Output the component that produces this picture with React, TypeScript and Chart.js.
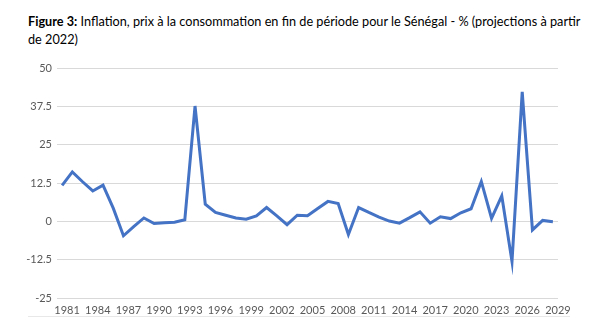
import React, { useEffect, useRef } from "react";
import { Chart, registerables } from "chart.js";

Chart.register(...registerables);

const years: string[] = [];
for (let y = 1981; y <= 2029; y++) years.push(String(y));

const inflation = [
  11.7, 16.1, 12.9, 9.9, 11.8, 4.3, -4.7, -1.7, 1.1, -0.7,
  -0.5, -0.3, 0.5, 37.6, 5.6, 2.9, 2.0, 1.1, 0.7, 1.8,
  4.5, 1.8, -1.1, 2.0, 1.8, 4.2, 6.5, 5.8, -4.3, 4.5,
  2.9, 1.4, 0.1, -0.6, 1.2, 3.1, -0.6, 1.5, 0.9, 2.8,
  4.1, 13.0, 1.0, 8.3, -13.1, 42.2, -2.8, 0.3, -0.1,
];

const yTicks = [50, 37.5, 25, 12.5, 0, -12.5, -25];
const titleBold = "Figure 3:";
const titleLine1 = " Inflation, prix à la consommation en fin de période pour le Sénégal - % (projections à partir";
const titleLine2 = "de 2022)";

export default function App() {
  const ref = useRef<HTMLCanvasElement>(null);
  useEffect(() => {
    if (!ref.current) return;
    const chart = new Chart(ref.current, {
      type: "line",
      data: {
        labels: years,
        datasets: [
          {
            data: inflation,
            borderColor: "#4472C4",
            borderWidth: 3,
            pointRadius: 0,
            tension: 0,
            fill: false,
          },
        ],
      },
      options: {
        animation: false,
        responsive: false,
        maintainAspectRatio: false,
        layout: { padding: { top: 68, left: 0, right: 42, bottom: 0 } },
        plugins: { legend: { display: false }, title: { display: false }, tooltip: { enabled: false } },
        scales: {
          x: {
            type: "category",
            offset: true,
            grid: { display: false, drawTicks: false },
            border: { display: false },
            afterFit: (s: any) => { s.height = 31; },
            ticks: {
              autoSkip: false,
              maxRotation: 0,
              minRotation: 0,
              padding: 6,
              labelOffset: 5,
              color: "#595959",
              font: { family: "Lato, 'Open Sans', sans-serif", size: 11 },
              callback: (_v: any, i: number) => (i % 3 === 0 ? years[i] : ""),
            },
          },
          y: {
            min: -25,
            max: 50,
            afterBuildTicks: (s: any) => { s.ticks = yTicks.map((v) => ({ value: v })); },
            afterFit: (s: any) => { s.width = 57; },
            grid: { color: "#d9d9d9", lineWidth: 1, drawTicks: false },
            border: { display: false },
            ticks: {
              padding: 5,
              color: "#595959",
              font: { family: "Lato, 'Open Sans', sans-serif", size: 11 },
              callback: (v: any) => String(v),
            },
          },
        },
      },
    });
    return () => chart.destroy();
  }, []);

  return (
    <div style={{ position: "fixed", left: 0, top: 0, width: 600, height: 329, background: "#fff", overflow: "hidden" }}>
      <div
        style={{
          position: "absolute",
          left: 28,
          top: 12,
          fontFamily: "Lato, 'Open Sans', sans-serif",
          fontSize: 12.7,
          lineHeight: "18px",
          color: "#000",
          whiteSpace: "nowrap",
        }}
      >
        <span style={{ fontWeight: 700 }}>{titleBold}</span>
        {titleLine1}
        <br />
        {titleLine2}
      </div>
      <canvas ref={ref} width={600} height={329} style={{ position: "absolute", left: 0, top: 0 }} />
      <div style={{ position: "absolute", left: 28, top: 316, width: 542, height: 0, borderTop: "1px solid #e8e8e8" }} />
    </div>
  );
}
